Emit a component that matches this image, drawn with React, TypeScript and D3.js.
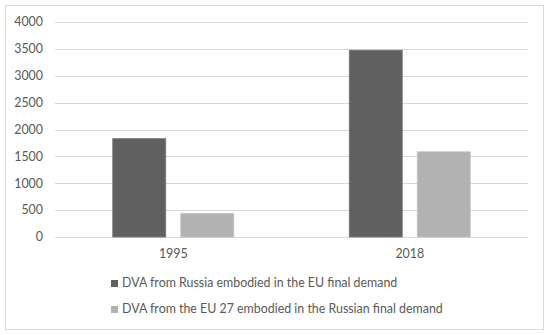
import React, { useRef, useEffect } from 'react'
import * as d3 from 'd3'

const years = ['1995', '2018']
const russiaToEU = [1830, 3475]
const euToRussia = [440, 1585]
const seriesNames = [
  'DVA from Russia embodied in the EU final demand',
  'DVA from the EU 27 embodied in the Russian final demand'
]
const yTicks = [0, 500, 1000, 1500, 2000, 2500, 3000, 3500, 4000]

const colors = ['#606060', '#b2b2b2']
const font = 'Lato, "Open Sans", sans-serif'

const App = () => {
  const ref = useRef<SVGSVGElement>(null)

  useEffect(() => {
    const width = 550
    const height = 335
    const svg = d3.select(ref.current)
    svg.selectAll('*').remove()
    svg.attr('width', width).attr('height', height)

    svg.append('rect')
      .attr('x', 5.5).attr('y', 5.5)
      .attr('width', 538).attr('height', 324)
      .attr('fill', 'white')
      .attr('stroke', '#d9d9d9')

    const x = d3.scaleBand()
      .domain(years)
      .range([55, 528])

    const y = d3.scaleLinear()
      .domain([0, 4000])
      .range([237, 22])

    svg.append('g')
      .selectAll('line')
      .data(yTicks)
      .join('line')
      .attr('x1', 55).attr('x2', 528)
      .attr('y1', d => Math.round(y(d)) + 0.5)
      .attr('y2', d => Math.round(y(d)) + 0.5)
      .attr('stroke', '#d9d9d9')

    svg.append('g')
      .selectAll('text')
      .data(yTicks)
      .join('text')
      .attr('x', 43)
      .attr('y', d => y(d))
      .attr('dy', '0.35em')
      .attr('text-anchor', 'end')
      .attr('font-family', font)
      .attr('font-size', 12.4)
      .attr('fill', '#595959')
      .text(d => d)

    const barW = 53
    const gap = 15
    const series = [russiaToEU, euToRussia]

    series.forEach((vals, si) => {
      svg.append('g')
        .selectAll('rect')
        .data(vals)
        .join('rect')
        .attr('x', (d, i) => x(years[i])! + x.bandwidth() / 2 - barW - gap / 2 + si * (barW + gap))
        .attr('y', d => y(d))
        .attr('width', barW)
        .attr('height', d => y(0) - y(d))
        .attr('fill', colors[si])
        .attr('stroke', si === 0 ? '#777' : '#c4c4c4')
        .attr('stroke-width', 0.8)
    })

    svg.append('g')
      .selectAll('text')
      .data(years)
      .join('text')
      .attr('x', d => x(d)! + x.bandwidth() / 2)
      .attr('y', 258)
      .attr('text-anchor', 'middle')
      .attr('font-family', font)
      .attr('font-size', 12.4)
      .attr('fill', '#595959')
      .text(d => d)

    const legend = svg.append('g')
      .selectAll('g')
      .data(seriesNames)
      .join('g')
      .attr('transform', (d, i) => `translate(111, ${287 + i * 26})`)

    legend.append('rect')
      .attr('x', 0).attr('y', -7)
      .attr('width', 7).attr('height', 7)
      .attr('fill', (d, i) => colors[i])

    legend.append('text')
      .attr('x', 11)
      .attr('y', 0)
      .attr('font-family', font)
      .attr('font-size', 12.4)
      .attr('fill', '#595959')
      .text(d => d)
  }, [])

  return (
    <div style={{ position: 'absolute', left: 0, top: 0 }}>
      <svg ref={ref}></svg>
    </div>
  )
}

export default App
